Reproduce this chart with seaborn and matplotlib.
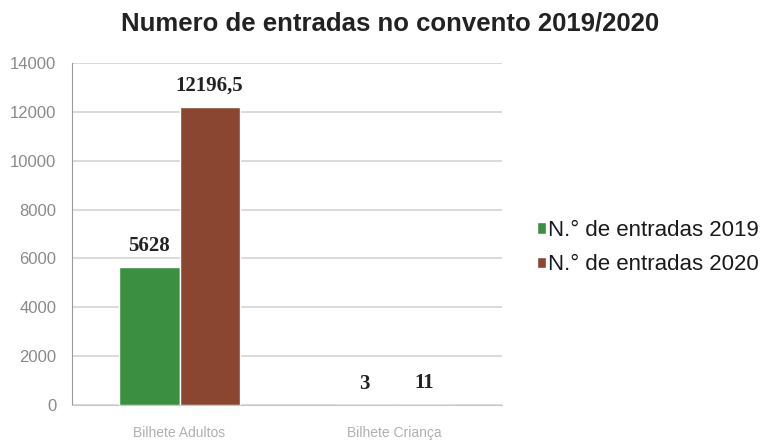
import pandas as pd
import matplotlib
matplotlib.use('Agg')
import seaborn as sns
import matplotlib.pyplot as plt

categorias = ['Bilhete Adultos', 'Bilhete Criança']
entradas_2019 = [5628, 3]
entradas_2020 = [12196.5, 11]
series = ['N.° de entradas 2019', 'N.° de entradas 2020']
rotulos_2019 = ['5628', '3']
rotulos_2020 = ['12196,5', '11']
yticks = [0, 2000, 4000, 6000, 8000, 10000, 12000, 14000]

df = pd.DataFrame({
    'Categoria': categorias * 2,
    'Valor': entradas_2019 + entradas_2020,
    'Serie': [series[0]] * 2 + [series[1]] * 2,
})

sns.set_style('white')
plt.rcParams['font.family'] = ['Liberation Sans', 'DejaVu Sans']

fig = plt.figure(figsize=(7.6, 4.41), dpi=100)
ax = fig.add_axes([0.095, 0.082, 0.565, 0.775])
sns.barplot(data=df, x='Categoria', y='Valor', hue='Serie',
            palette=['#3b8f40', '#8a4630'], width=0.56, saturation=1,
            ax=ax, zorder=3)

ax.set_ylim(0, 14000)
ax.set_yticks(yticks)
ax.set_yticklabels([str(t) for t in yticks], color='#8a8a8a', fontsize=12)
ax.set_xlim(-0.5, 1.5)
ax.yaxis.grid(True, color='#d4d4d4', linewidth=1.2, zorder=0)
ax.set_xlabel('')
ax.set_ylabel('')
ax.tick_params(axis='x', colors='#b0b0b0', labelsize=10, pad=12)
ax.tick_params(axis='y', pad=8)
for s in ['top', 'right']:
    ax.spines[s].set_visible(False)
ax.spines['left'].set_color('#9a9a9a')
ax.spines['bottom'].set_color('#c8c8c8')

for cont, rot in zip(ax.containers, [rotulos_2019, rotulos_2020]):
    ax.bar_label(cont, labels=rot, padding=8, fontsize=15, fontweight='bold',
                 family='Liberation Serif', color='#222222')

leg = ax.legend(loc='center left', bbox_to_anchor=(1.035, 0.46), frameon=False,
                fontsize=16, handlelength=0.4, handleheight=0.4,
                handletextpad=0.1, labelspacing=0.6)
for t in leg.get_texts():
    t.set_color('#1a1a1a')

fig.suptitle('Numero de entradas no convento 2019/2020', x=0.513, y=0.975,
             fontsize=18.5, fontweight='bold', color='#222222')

fig.savefig('out.png', dpi=100)
